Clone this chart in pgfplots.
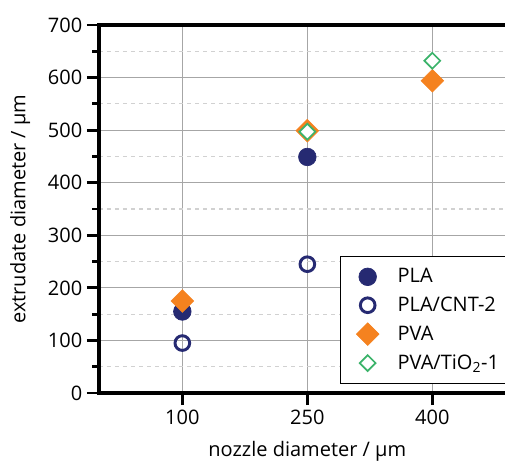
\documentclass[border=0pt]{standalone}
\usepackage{pgfplots}
\pgfplotsset{compat=1.18}
\usepackage{fontspec}
\setmainfont{Open Sans}
\definecolor{navy}{HTML}{262A72}
\definecolor{orng}{HTML}{F5821F}
\definecolor{grn}{HTML}{3BB36A}
\begin{document}
\begin{tikzpicture}
\begin{axis}[
  at={(0pt,0pt)}, anchor=south west,
  scale only axis, width=312.5pt, height=276pt,
  xmin=0, xmax=500, ymin=0, ymax=700,
  xtick={100,250,400}, ytick={0,100,...,700},
  minor y tick num=1,
  tick pos=left, tick align=outside,
  major tick length=9pt, minor tick length=5pt,
  tick style={black, line width=2.2pt},
  axis line style={line width=3pt},
  xmajorgrids, ymajorgrids, yminorgrids,
  major grid style={draw=black!35, line width=0.8pt},
  minor grid style={draw=black!18, dashed, line width=0.8pt},
  /pgf/number format/assume math mode=true,
  tick label style={font=\fontsize{15}{18}\selectfont},
  label style={font=\fontsize{15}{18}\selectfont},
  xlabel={nozzle diameter / µm},
  ylabel={extrudate diameter / µm},
  xlabel style={at={(axis description cs:0.5,-0.158)}, anchor=center},
  ylabel style={at={(axis description cs:-0.189,0.5)}, anchor=center},
  legend style={at={(0.578,0.0245)}, anchor=south west, draw=black, line width=0.8pt,
    font=\fontsize{15}{18}\selectfont, row sep=5pt, inner xsep=12pt, inner ysep=7pt, column sep=12pt},
  legend cell align=left,
]
\addplot[only marks, mark=*, mark size=6.6pt, color=navy, mark options={fill=navy, draw=navy, line width=0.5pt}]
  coordinates {(100,155) (250,449)};
\addlegendentry{PLA}
\addplot[only marks, mark=o, mark size=5.5pt, color=navy, mark options={draw=navy, fill=white, line width=2.2pt}]
  coordinates {(100,95) (250,245)};
\addlegendentry{PLA/CNT-2}
\addplot[only marks, mark=square*, mark size=6pt, color=orng, mark options={rotate=45, fill=orng, draw=orng, line width=0.5pt}]
  coordinates {(100,175) (250,499) (400,594)};
\addlegendentry{PVA}
\addplot[only marks, mark=square*, mark size=4.2pt, color=grn, mark options={rotate=45, fill=white, draw=grn, line width=1.3pt}]
  coordinates {(250,497) (400,632)};
\addlegendentry{PVA/TiO\textsubscript{2}-1}
\end{axis}
\pgfresetboundingbox
\path[use as bounding box] (-74.25pt,-52.5pt) rectangle (304.5pt,294.75pt);
\end{tikzpicture}
\end{document}
